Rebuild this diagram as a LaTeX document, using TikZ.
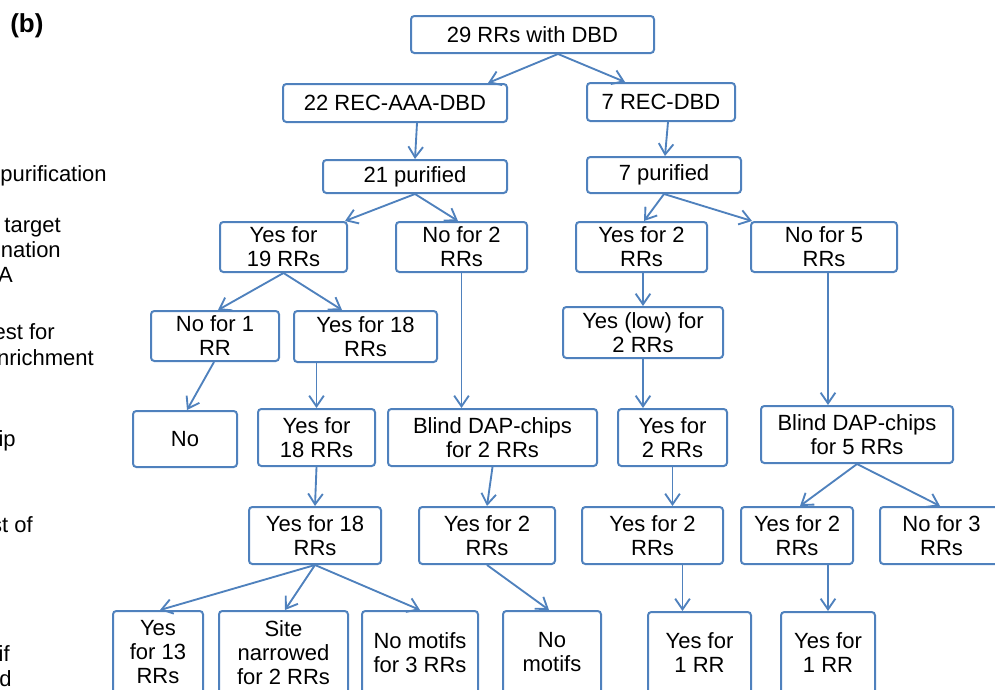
\documentclass[tikz,border=0pt]{standalone}
\usepackage{fontspec}
\setmainfont{Liberation Sans}
\usetikzlibrary{arrows.meta,calc}
\definecolor{boxblue}{RGB}{79,129,189}
\newcommand{\bx}[6]{\node[box, minimum width={(#4-#2)*0.75pt}, minimum height={(#5-#3)*0.75pt}] (#1) at ({(#2+#4)/2},{(#3+#5)/2}) {#6};}
\tikzset{
  box/.style={draw=boxblue, line width=1.5pt, rounded corners=2.5pt, inner sep=0pt, align=center,
    font=\fontsize{16.5pt}{18pt}\selectfont, text=black},
  arr/.style={draw=boxblue, line width=1.4pt, -{Straight Barb[length=8pt,width=11pt,line width=1.4pt]}},
  lbl/.style={font=\fontsize{16.5pt}{18pt}\selectfont, inner sep=0pt, text=black}
}
\begin{document}
\begin{tikzpicture}[x=0.75pt,y=-0.75pt]
\useasboundingbox (0,0) rectangle (995,689);
% title
\node[anchor=base west, inner sep=0pt, font=\fontsize{19.5pt}{22pt}\selectfont\bfseries] (title) at (10,32) {(b)};
% left labels (cut at the left edge)
\node[lbl, anchor=base east] (l1) at (107,181) {purification};
\node[lbl, anchor=base east] (l2) at (61,232) {target};
\node[lbl, anchor=base east] (l3) at (61,257) {ination};
\node[lbl, anchor=base east] (l4) at (13,282) {A};
\node[lbl, anchor=base east] (l5) at (55,339) {est for};
\node[lbl, anchor=base east] (l6) at (94,365) {nrichment};
\node[lbl, anchor=base east] (l7) at (16,446) {ip};
\node[lbl, anchor=base east] (l8) at (33,532) {st of};
\node[lbl, anchor=base east] (l9) at (10,661) {if};
\node[lbl, anchor=base east] (l10) at (12,686) {d};
% boxes
\bx{n29}{411}{16}{654}{53}{29 RRs with DBD}
\bx{n22}{283}{84}{507}{122}{22 REC-AAA-DBD}
\bx{n7r}{587}{83}{735}{121}{7 REC-DBD}
\bx{p21}{323}{160}{507}{193}{21 purified}
\bx{p7}{587}{157}{741}{193}{7 purified}
\bx{y19}{220}{222}{347}{272}{Yes for\\19 RRs}
\bx{no2}{396}{222}{527}{272}{No for 2\\RRs}
\bx{y2a}{576}{222}{707}{272}{Yes for 2\\RRs}
\bx{no5}{751}{222}{897}{272}{No for 5\\RRs}
\bx{no1}{151}{311}{279}{361}{No for 1\\RR}
\bx{y18a}{294}{311}{437}{362}{Yes for 18\\RRs}
\bx{ylow}{563}{307}{723}{358}{Yes (low) for\\2 RRs}
\bx{no}{133}{411}{237}{467}{No}
\bx{y18b}{258}{409}{375}{466}{Yes for\\18 RRs}
\bx{bl2}{388}{409}{597}{466}{Blind DAP-chips\\for 2 RRs}
\bx{y2b}{618}{409}{727}{466}{Yes for\\2 RRs}
\bx{bl5}{761}{406}{953}{463}{Blind DAP-chips\\for 5 RRs}
\bx{y18c}{249}{507}{381}{564}{Yes for 18\\RRs}
\bx{y2c}{419}{507}{555}{564}{Yes for 2\\RRs}
\bx{y2d}{582}{507}{723}{564}{Yes for 2\\RRs}
\bx{y2e}{741}{507}{853}{564}{Yes for 2\\RRs}
\bx{no3}{880}{507}{1003}{564}{No for 3\\RRs}
\bx{y13}{113}{611}{203}{694}{Yes\\for 13\\RRs}
\bx{site}{219}{611}{348}{694}{Site\\narrowed\\for 2 RRs}
\bx{nm3}{362}{611}{478}{694}{No motifs\\for 3 RRs}
\bx{nm}{503}{611}{601}{694}{No\\motifs}
\bx{y1a}{648}{612}{751}{694}{Yes for\\1 RR}
\bx{y1b}{781}{612}{875}{694}{Yes for\\1 RR}
% connector anchor points
\coordinate (s29) at ($(n29.south)+(25.5,0)$);
\coordinate (s5) at ($(no5.south)+(4,0)$);
\coordinate (s2d) at ($(y2d.south)+(30,0)$);
% connectors
\draw[arr] (s29) -- ($(n22.north)+(93,0)$);
\draw[arr] (s29) -- ($(n7r.north)+(-36,0)$);
\draw[arr] ($(n22.south)+(22,0)$) -- (p21.north);
\draw[arr] ($(n7r.south)+(7,0)$) -- ($(p7.north)+(1,0)$);
\draw[arr] (p21.south) -- ($(y19.north)+(61.5,0)$);
\draw[arr] (p21.south) -- ($(no2.north)+(-3.5,0)$);
\draw[arr] (p7.south) -- ($(y2a.north)+(2.5,0)$);
\draw[arr] (p7.south) -- ($(no5.north)+(-72,0)$);
\draw[arr] (y19.south) -- ($(no1.north)+(3,0)$);
\draw[arr] (y19.south) -- ($(y18a.north)+(-23.5,0)$);
\draw[arr] (no2.south) -- (no2.south |- bl2.north);
\draw[arr] ($(y2a.south)+(1.5,0)$) -- (ylow.north);
\draw[arr] (s5) -- (s5 |- bl5.north);
\draw[arr] ($(no1.south)+(-1,0)$) -- ($(no.north)+(2,0)$);
\draw[arr] (y18b.north |- y18a.south) -- (y18b.north);
\draw[arr] (ylow.south) -- (ylow.south |- y2b.north);
\draw[arr] (y18b.south) -- (y18c.north);
\draw[arr] (bl2.south) -- (y2c.north);
\draw[arr] (y2b.south) -- (y2b.south |- y2d.north);
\draw[arr] (bl5.south) -- ($(y2e.north)+(3,0)$);
\draw[arr] (bl5.south) -- ($(no3.north)+(-1.5,0)$);
\draw[arr] (y18c.south) -- ($(y13.north)+(2,0)$);
\draw[arr] (y18c.south) -- ($(site.north)+(1.5,0)$);
\draw[arr] (y18c.south) -- (nm3.north);
\draw[arr] (y2c.south) -- ($(nm.north)+(-3,0)$);
\draw[arr] (s2d) -- (s2d |- y1a.north);
\draw[arr] (y1b.north |- y2e.south) -- (y1b.north);
\end{tikzpicture}
\end{document}
